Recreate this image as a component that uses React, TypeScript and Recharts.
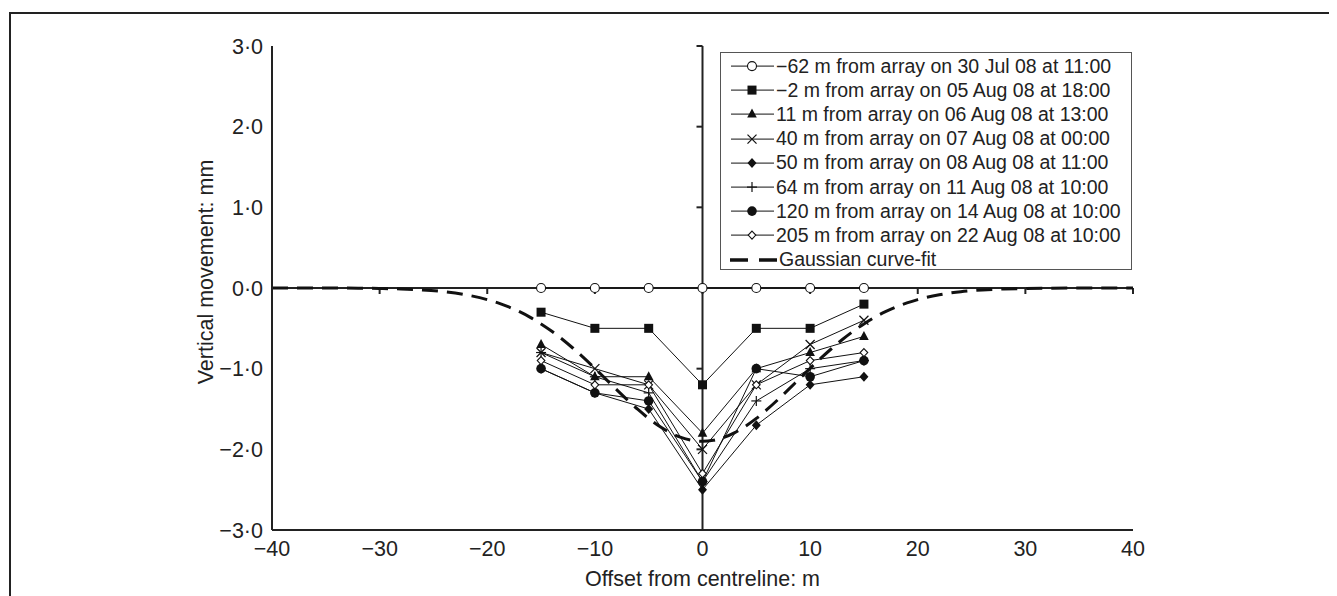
import React from 'react';
import { LineChart, Line, XAxis, YAxis, ReferenceLine } from 'recharts';

// ---- data ----
const offsets = [-15, -10, -5, 0, 5, 10, 15];
const s62 = [0, 0, 0, 0, 0, 0, 0];
const s2 = [-0.3, -0.5, -0.5, -1.2, -0.5, -0.5, -0.2];
const s11 = [-0.7, -1.1, -1.1, -1.8, -1.0, -0.8, -0.6];
const s40 = [-0.8, -1.0, -1.2, -2.0, -1.2, -0.7, -0.4];
const s50 = [-1.0, -1.3, -1.5, -2.5, -1.7, -1.2, -1.1];
const s64 = [-0.8, -1.1, -1.3, -2.4, -1.4, -1.0, -0.9];
const s120 = [-1.0, -1.3, -1.4, -2.4, -1.0, -1.1, -0.9];
const s205 = [-0.9, -1.2, -1.2, -2.3, -1.2, -0.9, -0.8];

const gaussX = [-40, -36, -32, -30, -28, -26, -24, -22, -20, -19, -18, -17, -16, -15, -14, -13, -12, -11, -10, -9, -8, -7, -6, -5, -4, -3, -2, -1, 0,
  1, 2, 3, 4, 5, 6, 7, 8, 9, 10, 11, 12, 13, 14, 15, 16, 17, 18, 19, 20, 22, 24, 26, 28, 30, 32, 36, 40];
const gaussY = [0, 0, -0.002, -0.006, -0.012, -0.024, -0.046, -0.084, -0.144, -0.185, -0.235, -0.294, -0.364, -0.445, -0.536, -0.638, -0.75, -0.87, -0.996, -1.126, -1.257, -1.385, -1.506, -1.617, -1.714, -1.793, -1.852, -1.888, -1.9,
  -1.888, -1.852, -1.793, -1.714, -1.617, -1.506, -1.385, -1.257, -1.126, -0.996, -0.87, -0.75, -0.638, -0.536, -0.445, -0.364, -0.294, -0.235, -0.185, -0.144, -0.084, -0.046, -0.024, -0.012, -0.006, -0.002, 0, 0];

const seriesNames = [
  '\u221262 m from array on 30 Jul 08 at 11:00',
  '\u22122 m from array on 05 Aug 08 at 18:00',
  '11 m from array on 06 Aug 08 at 13:00',
  '40 m from array on 07 Aug 08 at 00:00',
  '50 m from array on 08 Aug 08 at 11:00',
  '64 m from array on 11 Aug 08 at 10:00',
  '120 m from array on 14 Aug 08 at 10:00',
  '205 m from array on 22 Aug 08 at 10:00',
];
const gaussName = 'Gaussian curve-fit';
const seriesShapes = ['circleOpen', 'square', 'triangle', 'cross', 'diamond', 'plus', 'circle', 'diamondOpen'];
const seriesValues = [s62, s2, s11, s40, s50, s64, s120, s205];

const xTicks = [-40, -30, -20, -10, 0, 10, 20, 30, 40];
const xTickLabels = ['\u221240', '\u221230', '\u221220', '\u221210', '0', '10', '20', '30', '40'];
const yTicks = [-3, -2, -1, 0, 1, 2, 3];
const yTickLabels = ['\u22123\u00b70', '\u22122\u00b70', '\u22121\u00b70', '0\u00b70', '1\u00b70', '2\u00b70', '3\u00b70'];
const xTitle = 'Offset from centreline: m';
const yTitle = 'Vertical movement: mm';

// ---- build ----
const seriesData = seriesValues.map((vals) => offsets.map((x, i) => ({ x, y: vals[i] })));
const gaussData = gaussX.map((x, i) => ({ x, y: gaussY[i] }));

const FONT = '"Liberation Sans", Arial, sans-serif';
const FS_AXIS = 21.5;
const FS_LEG = 19.5;

// chart geometry
const CW = 1321;
const CH = 588;
const M = { top: 38, right: 196, bottom: 8, left: 0 };
const YW = 264;
const XH = 58;
const plotW = CW - M.left - M.right - YW;
const plotH = CH - M.top - M.bottom - XH;
const TICK_PX = 6;
const tickDy = (TICK_PX * 6) / plotH;
const tickDx = (TICK_PX * 80) / plotW;

function Marker({ shape, cx, cy }: { shape: string; cx: number; cy: number }) {
  if (cx == null || cy == null) return null;
  switch (shape) {
    case 'circleOpen':
      return <circle cx={cx} cy={cy} r={4.5} fill="#fff" stroke="#111" strokeWidth={1.1} />;
    case 'square':
      return <rect x={cx - 4.5} y={cy - 4.5} width={9} height={9} fill="#111" />;
    case 'triangle':
      return <polygon points={`${cx},${cy - 5.5} ${cx - 4.8},${cy + 3.5} ${cx + 4.8},${cy + 3.5}`} fill="#111" />;
    case 'cross':
      return (
        <g stroke="#111" strokeWidth={1.2}>
          <line x1={cx - 4.5} y1={cy - 4.5} x2={cx + 4.5} y2={cy + 4.5} />
          <line x1={cx - 4.5} y1={cy + 4.5} x2={cx + 4.5} y2={cy - 4.5} />
        </g>
      );
    case 'diamond':
      return <polygon points={`${cx},${cy - 5} ${cx + 4.5},${cy} ${cx},${cy + 5} ${cx - 4.5},${cy}`} fill="#111" />;
    case 'plus':
      return (
        <g stroke="#111" strokeWidth={1.2}>
          <line x1={cx - 5} y1={cy} x2={cx + 5} y2={cy} />
          <line x1={cx} y1={cy - 5} x2={cx} y2={cy + 5} />
        </g>
      );
    case 'circle':
      return <circle cx={cx} cy={cy} r={4.8} fill="#111" />;
    case 'diamondOpen':
      return <polygon points={`${cx},${cy - 4} ${cx + 3.8},${cy} ${cx},${cy + 4} ${cx - 3.8},${cy}`} fill="#fff" stroke="#111" strokeWidth={1.1} />;
    default:
      return null;
  }
}

const XTick = (props: any) => {
  const { x, y, payload, index } = props;
  const i = xTicks.indexOf(payload.value);
  return (
    <text key={`xt-${index}`} x={x} y={y} dy="0.71em" textAnchor="middle" fontFamily={FONT} fontSize={FS_AXIS} fill="#222">
      {i >= 0 ? xTickLabels[i] : payload.value}
    </text>
  );
};
const YTick = (props: any) => {
  const { x, y, payload, index } = props;
  const i = yTicks.indexOf(payload.value);
  return (
    <text key={`yt-${index}`} x={x} y={y} dy="0.355em" textAnchor="end" fontFamily={FONT} fontSize={FS_AXIS} fill="#222">
      {i >= 0 ? yTickLabels[i] : payload.value}
    </text>
  );
};

const YTitle = (props: any) => {
  const vb = props.viewBox || { x: 0, y: 0, width: 0, height: 0 };
  const cx = vb.x + 197;
  const cy = vb.y + vb.height / 2 - 16;
  return (
    <text x={cx} y={cy} dy="0.355em" transform={`rotate(-90 ${cx} ${cy})`} textAnchor="middle" fontFamily={FONT} fontSize={FS_AXIS} fill="#222">
      {yTitle}
    </text>
  );
};

function LegendBox() {
  const rowH = 24.2;
  return (
    <div
      style={{
        position: 'absolute',
        left: 712,
        top: 44,
        width: 410,
        height: 215,
        border: '1px solid #555',
        background: '#fff',
        fontFamily: FONT,
        fontSize: FS_LEG,
        color: '#222',
        paddingTop: 1,
        boxSizing: 'content-box',
      }}
    >
      {seriesNames.map((name, i) => (
        <div key={name} style={{ height: rowH, display: 'flex', alignItems: 'center' }}>
          <svg width={55} height={rowH} style={{ flex: 'none' }}>
            <line x1={10} y1={rowH / 2} x2={53} y2={rowH / 2} stroke="#111" strokeWidth={1} />
            <Marker shape={seriesShapes[i]} cx={31} cy={rowH / 2} />
          </svg>
          <span style={{ whiteSpace: 'nowrap' }}>{name}</span>
        </div>
      ))}
      <div style={{ height: rowH, display: 'flex', alignItems: 'center' }}>
        <svg width={58} height={rowH} style={{ flex: 'none' }}>
          <line x1={9} y1={rowH / 2} x2={56} y2={rowH / 2} stroke="#111" strokeWidth={3.5} strokeDasharray="18 11" />
        </svg>
        <span style={{ whiteSpace: 'nowrap' }}>{gaussName}</span>
      </div>
    </div>
  );
}

export default function App() {
  return (
    <div style={{ position: 'relative', width: CW, height: CH }}>
      <style>{'html,body{overflow:hidden}'}</style>
      <div
        style={{
          position: 'absolute',
          left: 1,
          top: 4,
          width: 1319,
          height: 600,
          borderLeft: '2px solid #222',
          borderRight: '2px solid #222',
          borderTop: '2px solid #222',
        }}
      />
      <div style={{ position: 'absolute', left: 0, top: 0 }}>
        <LineChart width={CW} height={CH} margin={M}>
          <XAxis
            dataKey="x"
            type="number"
            domain={[-40, 40]}
            ticks={xTicks}
            allowDataOverflow
            height={XH}
            axisLine={{ stroke: '#222', strokeWidth: 2 }}
            tickLine={false}
            tickSize={6}
            tickMargin={5}
            tick={<XTick />}
            interval={0}
            label={{ value: xTitle, position: 'insideBottom', offset: 2, style: { fontFamily: FONT, fontSize: FS_AXIS, fill: '#222' } }}
          />
          <YAxis
            type="number"
            domain={[-3, 3]}
            ticks={yTicks}
            allowDataOverflow
            width={YW}
            axisLine={{ stroke: '#222', strokeWidth: 2 }}
            tickLine={false}
            tickSize={6}
            tickMargin={3}
            tick={<YTick />}
            interval={0}
            label={<YTitle />}
          />
          <ReferenceLine y={0} stroke="#222" strokeWidth={2} />
          <ReferenceLine x={0} stroke="#222" strokeWidth={2} />
          {xTicks.map((t) => (
            <ReferenceLine key={`xm-${t}`} segment={[{ x: t, y: 0 }, { x: t, y: -tickDy }]} stroke="#222" strokeWidth={2} />
          ))}
          {yTicks.map((t) => (
            <ReferenceLine key={`ym-${t}`} segment={[{ x: 0, y: t }, { x: -tickDx, y: t }]} stroke="#222" strokeWidth={2} />
          ))}
          {seriesData.map((d, si) => (
            <Line
              key={seriesNames[si]}
              data={d}
              dataKey="y"
              name={seriesNames[si]}
              type="linear"
              stroke="#111"
              strokeWidth={1}
              isAnimationActive={false}
              dot={(p: any) => <Marker key={`d-${si}-${p.index}`} shape={seriesShapes[si]} cx={p.cx} cy={p.cy} />}
              activeDot={false}
            />
          ))}
          <Line
            data={gaussData}
            dataKey="y"
            name={gaussName}
            type="monotone"
            stroke="#111"
            strokeWidth={3}
            strokeDasharray="16 9"
            dot={false}
            activeDot={false}
            isAnimationActive={false}
          />
        </LineChart>
      </div>
      <LegendBox />
    </div>
  );
}
